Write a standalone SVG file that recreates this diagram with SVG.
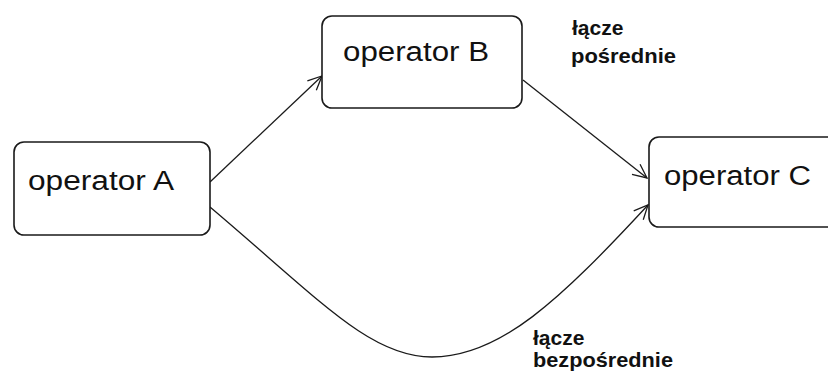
<svg xmlns="http://www.w3.org/2000/svg" width="828" height="374" viewBox="0 0 828 374">
  <style>
    .box { fill: #ffffff; stroke: #1a1a1a; stroke-width: 1.6; }
    .lbl { font-family: "Liberation Sans", Arial, sans-serif; font-size: 27px; fill: #111; }
    .note { font-family: "Liberation Sans", Arial, sans-serif; font-size: 21px; font-weight: bold; fill: #111; }
    .conn { fill: none; stroke: #1a1a1a; stroke-width: 1.3; }
  </style>
  <defs>
    <marker id="arr" markerUnits="userSpaceOnUse" markerWidth="18" markerHeight="16" refX="16" refY="8" orient="auto">
      <path d="M2,1.5 L16,8 L2,14.5" fill="none" stroke="#1a1a1a" stroke-width="1.3"/>
    </marker>
  </defs>
  <rect width="828" height="374" fill="#ffffff"/>
  <g id="connectors">
    <path class="conn" d="M210,182 L322,76" marker-end="url(#arr)"/>
    <path class="conn" d="M523,80 L647,178" marker-end="url(#arr)"/>
    <path class="conn" d="M210,207 C320,300 370,357 432,357 C500,357 560,300 648,205" marker-end="url(#arr)"/>
  </g>
  <g id="nodeA">
    <rect class="box" x="14" y="142" width="196" height="93" rx="10"/>
    <text class="lbl" x="28" y="190" textLength="146" lengthAdjust="spacingAndGlyphs">operator A</text>
  </g>
  <g id="nodeB">
    <rect class="box" x="322" y="16" width="200" height="92" rx="10"/>
    <text class="lbl" x="343" y="61" textLength="146" lengthAdjust="spacingAndGlyphs">operator B</text>
  </g>
  <g id="nodeC">
    <rect class="box" x="649" y="137" width="200" height="90" rx="10"/>
    <text class="lbl" x="664" y="185" textLength="147" lengthAdjust="spacingAndGlyphs">operator C</text>
  </g>
  <g id="labels">
    <text class="note" x="572" y="35">łącze</text>
    <text class="note" x="571" y="63" textLength="105" lengthAdjust="spacingAndGlyphs">pośrednie</text>
    <text class="note" x="533" y="345">łącze</text>
    <text class="note" x="533" y="367" textLength="140" lengthAdjust="spacingAndGlyphs">bezpośrednie</text>
  </g>
</svg>
